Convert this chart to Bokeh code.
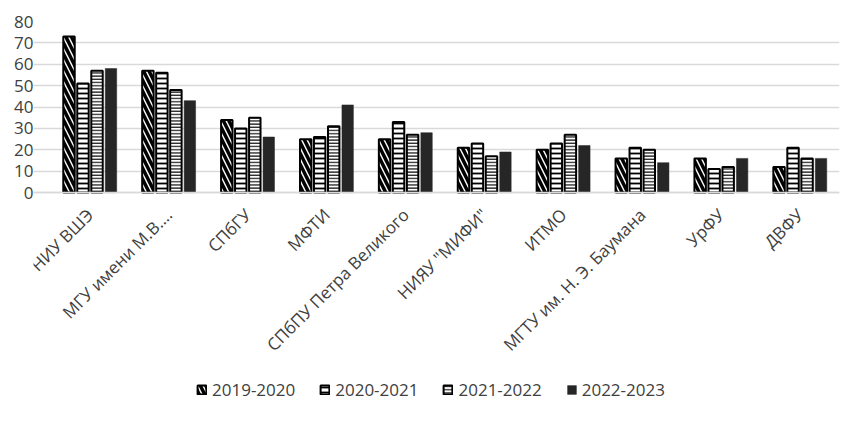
import numpy as np
from bokeh.plotting import figure
from bokeh.models import (ColumnDataSource, Range1d, FixedTicker,
                          Legend, LegendItem)
from bokeh.transform import dodge
from bokeh.embed import file_html
from bokeh.resources import INLINE
from math import pi

categories = ["НИУ ВШЭ", "МГУ имени М.В.…", "СПбГУ", "МФТИ", "СПбПУ Петра Великого",
              "НИЯУ \"МИФИ\"", "ИТМО", "МГТУ им. Н. Э. Баумана", "УрФУ", "ДВФУ"]
series_names = ["2019-2020", "2020-2021", "2021-2022", "2022-2023"]
v2019 = [73, 57, 34, 25, 25, 21, 20, 16, 16, 12]
v2020 = [51, 56, 30, 26, 33, 23, 23, 21, 11, 21]
v2021 = [57, 48, 35, 31, 27, 17, 27, 20, 12, 16]
v2022 = [58, 43, 26, 41, 28, 19, 22, 14, 16, 16]
y_ticks = [0, 10, 20, 30, 40, 50, 60, 70, 80]

idx = list(range(len(categories)))
source = ColumnDataSource(dict(idx=idx, cat=categories, v2019=v2019, v2020=v2020,
                               v2021=v2021, v2022=v2022))

FONT = "Open Sans"
TXT = "#404040"

# frame extends below the value axis so the category labels and legend fit inside
p = figure(frame_width=806, frame_height=400, output_backend="svg", toolbar_location=None,
           x_range=Range1d(-0.716, 9.5),
           y_range=Range1d(-107, 80),
           min_border_left=33, min_border_right=22, min_border_top=21,
           min_border_bottom=0)
p.outline_line_color = None

styles = [
    dict(fill_color="white", line_color="black", line_width=2,
         hatch_pattern="\\", hatch_color="black", hatch_scale=11, hatch_weight=3.5),
    dict(fill_color="white", line_color="black", line_width=2,
         hatch_pattern="-", hatch_color="black", hatch_scale=5, hatch_weight=1.8),
    dict(fill_color="white", line_color="black", line_width=2,
         hatch_pattern="-", hatch_color="#2a2a2a", hatch_scale=3.2, hatch_weight=1.5),
    dict(fill_color="#262626", line_color="#262626", line_width=0.5),
]
cols = ["v2019", "v2020", "v2021", "v2022"]
offsets = [-0.266, -0.089, 0.089, 0.266]
items = []
for col, off, st, name in zip(cols, offsets, styles, series_names):
    r = p.vbar(x=dodge("idx", off), top=col, width=0.145, source=source, **st)
    items.append(LegendItem(label=name, renderers=[r]))

p.ygrid.ticker = FixedTicker(ticks=y_ticks)
p.ygrid.grid_line_color = "#d9d9d9"
p.ygrid.grid_line_width = 1.5
p.xgrid.grid_line_color = None

p.yaxis.ticker = FixedTicker(ticks=y_ticks)
p.yaxis.axis_line_color = None
p.yaxis.major_tick_line_color = None
p.yaxis.minor_tick_line_color = None
p.yaxis.major_tick_out = 0
p.yaxis.major_label_standoff = 0
p.yaxis.major_label_text_font = FONT
p.yaxis.major_label_text_font_size = "17px"
p.yaxis.major_label_text_color = TXT

p.xaxis.fixed_location = 0
p.xaxis.ticker = FixedTicker(ticks=idx)
p.xaxis.major_label_overrides = {i: c for i, c in zip(idx, categories)}
p.xaxis.axis_line_color = "#d9d9d9"
p.xaxis.axis_line_width = 1.5
p.xaxis.major_tick_line_color = None
p.xaxis.minor_tick_line_color = None
p.xaxis.major_label_orientation = pi / 4
p.xaxis.major_label_standoff = 13
p.xaxis.major_label_text_font = FONT
p.xaxis.major_label_text_font_size = "17px"
p.xaxis.major_label_text_color = TXT

legend = Legend(items=items, orientation="horizontal", location=(163, 20),
                border_line_color=None, background_fill_alpha=0,
                label_text_font=FONT, label_text_font_size="17px",
                label_text_color=TXT, glyph_width=11, glyph_height=11,
                label_standoff=5, spacing=24, margin=0, padding=0)
p.add_layout(legend, "center")

open("out.html", "w").write(file_html(p, INLINE))
